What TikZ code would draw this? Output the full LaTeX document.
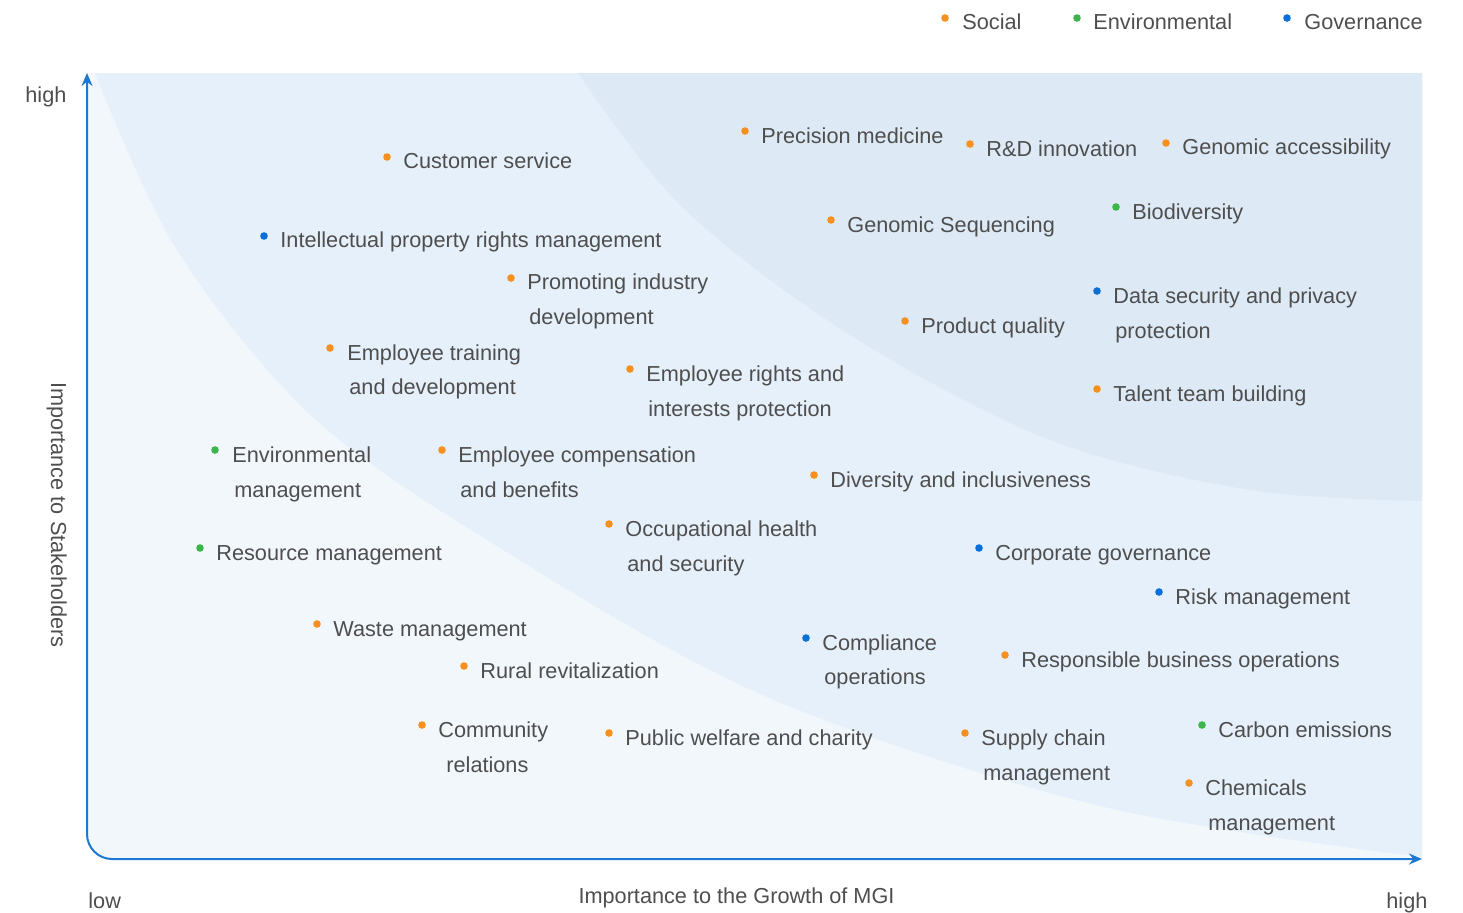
\documentclass[tikz,border=0pt]{standalone}
\usepackage{fontspec}
\setmainfont{Liberation Sans}
\usetikzlibrary{arrows.meta}
\definecolor{txt}{HTML}{4E4E4E}
\definecolor{soc}{HTML}{F7901E}
\definecolor{env}{HTML}{3CB54A}
\definecolor{gov}{HTML}{0A6FD6}
\definecolor{axisblue}{HTML}{1E78D2}
\definecolor{zoneA}{HTML}{F2F7FC}
\definecolor{zoneB}{HTML}{E6F0FA}
\definecolor{zoneC}{HTML}{DDEAF6}
\newcommand\esgitem[7]{%
  \node[dot, fill=#2] (#1d) at (#3,#4) {};
  \node[lbl] (#1) at (#5,#6) {#7};}
\begin{document}
\begin{tikzpicture}[x=0.5pt,y=-0.5pt,
  lbl/.style={anchor=base west, inner sep=0pt, text=txt, font=\fontsize{10.85}{13}\selectfont},
  dot/.style={circle, inner sep=0pt, minimum size=3.8pt, draw=none},
  axisline/.style={draw=axisblue, line width=1pt, {Stealth[length=6.5pt,width=5.5pt]}-{Stealth[length=6.5pt,width=5.5pt]}}]
\useasboundingbox (0,0) rectangle (1463,912);
% zones
\fill[zoneA] (87,73) -- (87,834) .. controls (87,847.8) and (98.2,859) .. (112,859) -- (1422,859) -- (1422,73) -- cycle;
\fill[zoneB] plot[smooth, tension=0.55] coordinates {(95,73) (177,250) (313,417) (500,548) (767,697) (1100,806) (1422,857)} -- (1422,73) -- cycle;
\fill[zoneC] plot[smooth, tension=0.55] coordinates {(578,73) (683,208) (850,335) (1050,440) (1250,490) (1422,501)} -- (1422,73) -- cycle;
% axes
\coordinate (ytop) at (87,73);
\coordinate (ycorner) at (87,834);
\coordinate (xcorner) at (112,859);
\coordinate (xend) at (1422,859);
\draw[axisline] (ytop) -- (ycorner) .. controls (87,847.8) and (98.2,859) .. (xcorner) -- (xend);
% axis labels
\node[lbl] (yhigh) at (25,102) {high};
\node[lbl] (xlow) at (88,908) {low};
\node[lbl] (xhigh) at (1386,908) {high};
\node[lbl, anchor=base] (xtitle) at (736.5,903) {Importance to the Growth of MGI};
\node[lbl, anchor=base, rotate=-90] (ytitle) at (51,515) {Importance to Stakeholders};
% legend
\esgitem{lsoc}{soc}{945}{18}{962}{29}{Social}
\esgitem{lenv}{env}{1077}{18}{1093}{29}{Environmental}
\esgitem{lgov}{gov}{1287}{18}{1304}{29}{Governance}
% items
\esgitem{pm}{soc}{745}{131}{761}{143}{Precision medicine}
\esgitem{rd}{soc}{970}{144}{986}{156}{R\&D innovation}
\esgitem{ga}{soc}{1166}{143}{1182}{154}{Genomic accessibility}
\esgitem{cs}{soc}{387}{157}{403}{168}{Customer service}
\esgitem{bd}{env}{1116}{207}{1132}{219}{Biodiversity}
\esgitem{gs}{soc}{831}{220}{847}{232}{Genomic Sequencing}
\esgitem{ip}{gov}{264}{236}{280}{247}{Intellectual property rights management}
\esgitem{pi}{soc}{511}{278}{527}{289}{Promoting industry}
\node[lbl] (pi2) at (529,324) {development};
\esgitem{ds}{gov}{1097}{291}{1113}{303}{Data security and privacy}
\node[lbl] (ds2) at (1115,338) {protection};
\esgitem{pq}{soc}{905}{321}{921}{333}{Product quality}
\esgitem{et}{soc}{330}{348}{347}{360}{Employee training}
\node[lbl] (et2) at (349,394) {and development};
\esgitem{er}{soc}{630}{369}{646}{381}{Employee rights and}
\node[lbl] (er2) at (648,416) {interests protection};
\esgitem{tt}{soc}{1097}{389}{1113}{401}{Talent team building}
\esgitem{em}{env}{215}{450}{232}{462}{Environmental}
\node[lbl] (em2) at (234,497) {management};
\esgitem{ec}{soc}{442}{450}{458}{462}{Employee compensation}
\node[lbl] (ec2) at (460,497) {and benefits};
\esgitem{di}{soc}{814}{475}{830}{487}{Diversity and inclusiveness}
\esgitem{oh}{soc}{609}{524}{625}{536}{Occupational health}
\node[lbl] (oh2) at (627,571) {and security};
\esgitem{rm}{env}{200}{548}{216}{560}{Resource management}
\esgitem{cg}{gov}{979}{548}{995}{560}{Corporate governance}
\esgitem{rk}{gov}{1159}{592}{1175}{604}{Risk management}
\esgitem{wm}{soc}{317}{624}{333}{636}{Waste management}
\esgitem{co}{gov}{806}{638}{822}{650}{Compliance}
\node[lbl] (co2) at (824,684) {operations};
\esgitem{rb}{soc}{1005}{655}{1021}{667}{Responsible business operations}
\esgitem{rr}{soc}{464}{666}{480}{678}{Rural revitalization}
\esgitem{cr}{soc}{422}{725}{438}{737}{Community}
\node[lbl] (cr2) at (446,772) {relations};
\esgitem{pw}{soc}{609}{733}{625}{745}{Public welfare and charity}
\esgitem{sc}{soc}{965}{733}{981}{745}{Supply chain}
\node[lbl] (sc2) at (983,780) {management};
\esgitem{ce}{env}{1202}{725}{1218}{737}{Carbon emissions}
\esgitem{ch}{soc}{1189}{783}{1205}{795}{Chemicals}
\node[lbl] (ch2) at (1208,830) {management};
\end{tikzpicture}
\end{document}
